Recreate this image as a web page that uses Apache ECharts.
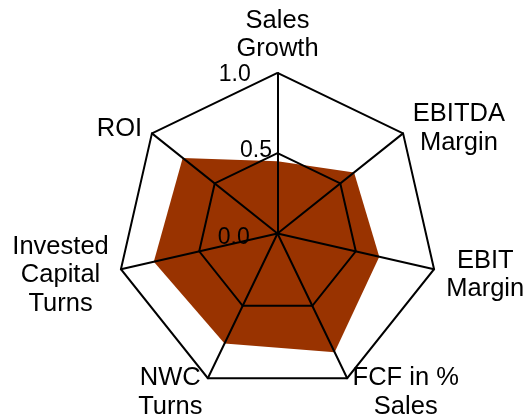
<!DOCTYPE html>
<html>
<head>
<meta charset="utf-8">
<script src="https://cdn.jsdelivr.net/npm/echarts@6/dist/echarts.min.js"></script>
<style>
  html, body { margin: 0; padding: 0; background: #fff; }
  #chart { width: 524px; height: 418px; }
</style>
</head>
<body>
<div id="chart"></div>
<script>
// Metrics, listed clockwise starting from the top spoke
const categories = ['Sales\nGrowth', 'EBITDA\nMargin', 'EBIT\nMargin', 'FCF in %\nSales', 'NWC\nTurns', 'Invested\nCapital\nTurns', 'ROI'];
const scores = [0.45, 0.61, 0.65, 0.82, 0.76, 0.79, 0.755];
const tickLabels = ['0.0', '0.5', '1.0'];

// Layout
const CX = 277.5, CY = 233.5, R = 160.6;
const FONT_FAMILY = "'Liberation Sans', Arial, sans-serif";
const NAME_SIZE = 25.5, NAME_LINE = 28.5, TICK_SIZE = 23;
const NAME_RADIUS = R + 12.5;
const NAME_DY = 3;
// tick label centres relative to the radar centre (px)
const tickLabelOffsets = [[-43.8, 4], [-21.5, -83], [-42.8, -159]];

const n = categories.length;
// ECharts lays radar indicators out counter-clockwise, so reverse all but the first
const order = [0].concat(Array.from({ length: n - 1 }, (_, k) => n - 1 - k));

const measureCtx = document.createElement('canvas').getContext('2d');
measureCtx.font = NAME_SIZE + 'px ' + FONT_FAMILY;
function blockWidth(text) {
  return Math.max.apply(null, text.split('\n').map(s => measureCtx.measureText(s).width));
}

const graphics = [];
categories.forEach((name, i) => {
  const a = (90 - i * 360 / n) * Math.PI / 180;
  const c = Math.cos(a), s = Math.sin(a);
  let x = CX + NAME_RADIUS * c;
  let y = CY - NAME_RADIUS * s + NAME_DY;
  let va = 'middle';
  if (Math.abs(c) < 0.01) {
    va = 'bottom';
  } else {
    x += Math.sign(c) * blockWidth(name) / 2;
  }
  graphics.push({
    type: 'text', z: 20,
    style: {
      text: name, x: x, y: y, align: 'center', verticalAlign: va,
      font: NAME_SIZE + 'px ' + FONT_FAMILY, lineHeight: NAME_LINE, fill: '#000'
    }
  });
});
tickLabels.forEach((t, k) => {
  graphics.push({
    type: 'text', z: 20,
    style: {
      text: t, x: CX + tickLabelOffsets[k][0], y: CY + tickLabelOffsets[k][1],
      align: 'center', verticalAlign: 'middle',
      font: TICK_SIZE + 'px ' + FONT_FAMILY, fill: '#000'
    }
  });
});

const chart = echarts.init(document.getElementById('chart'), null, { renderer: 'canvas' });
chart.setOption({
  backgroundColor: '#fff',
  animation: false,
  radar: {
    z: 5,
    center: [CX, CY],
    radius: R,
    startAngle: 90,
    shape: 'polygon',
    splitNumber: 2,
    indicator: order.map(i => ({ name: categories[i], min: 0, max: 1 })),
    axisName: { show: false },
    axisLine: { lineStyle: { color: '#000', width: 2 } },
    axisTick: { show: false },
    axisLabel: { show: false },
    splitLine: { lineStyle: { color: '#000', width: 2 } },
    splitArea: { show: false }
  },
  series: [{
    type: 'radar',
    z: 2,
    symbol: 'none',
    silent: true,
    lineStyle: { width: 0, opacity: 0 },
    areaStyle: { color: '#993300', opacity: 1 },
    data: [{ value: order.map(i => scores[i]) }]
  }],
  graphic: graphics
});
</script>
</body>
</html>
